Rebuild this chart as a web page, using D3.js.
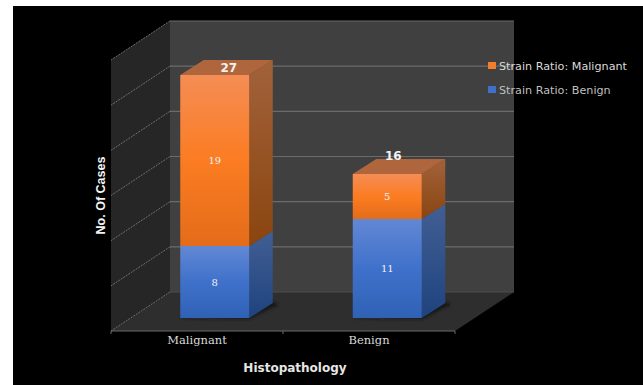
<!DOCTYPE html>
<html>
<head>
<meta charset="utf-8">
<script src="https://cdn.jsdelivr.net/npm/d3@7"></script>
<style>
  html, body { margin: 0; padding: 0; background: #fff; }
  svg { display: block; }
  text { font-family: "DejaVu Sans", sans-serif; }
</style>
</head>
<body>
<svg id="chart" width="643" height="385"></svg>
<script>
// Chart content
const categories = ["Malignant", "Benign"];
const benignValues = [8, 11];
const malignantValues = [19, 5];
const totals = [27, 16];
const seriesNames = ["Strain Ratio: Malignant", "Strain Ratio: Benign"];
const yTicks = [0, 5, 10, 15, 20, 25, 30];

const svg = d3.select("#chart");

// Oblique box: back wall, the depth vector to the front plane, and how far bars sit in
const back = { x0: 170, x1: 514, y0: 292, y1: 21 };
const depth = { dx: -59, dy: 39 };
const barInset = { dx: -41.5, dy: 26 };
const barDepth = { dx: 23.5, dy: -15 };

const y = d3.scaleLinear().domain([0, 30]).range([back.y0, back.y1]);
// Bars stand on a plane slightly nearer than the back wall
const yBar = d3.scaleLinear().domain([0, 30]).range([back.y0 + barInset.dy, back.y1 + barInset.dy + 1]);
const xFront = d3.scaleBand().domain(categories)
  .range([back.x0 + depth.dx, back.x1 + depth.dx]);
const xBar = d3.scaleBand().domain(categories)
  .range([back.x0 + barInset.dx, back.x1 + barInset.dx + 1])
  .paddingInner(0.6).paddingOuter(0.3);

const pts = a => a.map(p => p.join(",")).join(" ");

// Vertical gradients for the bar faces
const defs = svg.append("defs");
function gradient(id, stops) {
  const g = defs.append("linearGradient").attr("id", id)
    .attr("x1", 0).attr("y1", 0).attr("x2", 0).attr("y2", 1);
  stops.forEach(([o, c]) => g.append("stop").attr("offset", o).attr("stop-color", c));
}
gradient("orangeFront", [[0, "#f58d55"], [0.5, "#fb7c22"], [1, "#e46c19"]]);
gradient("blueFront", [[0, "#6288d4"], [0.5, "#3f71cb"], [1, "#2f62b5"]]);
gradient("orangeSide", [[0, "#a2623a"], [1, "#8a4510"]]);
gradient("blueSide", [[0, "#425f94"], [1, "#1f437f"]]);
const shadowBlur = defs.append("filter").attr("id", "shadowBlur")
  .attr("x", "-20%").attr("y", "-50%").attr("width", "140%").attr("height", "200%");
shadowBlur.append("feGaussianBlur").attr("stdDeviation", 1.5);

// Page background: black panel with a white sliver top and left
svg.append("rect").attr("width", 643).attr("height", 385).attr("fill", "#fff");
svg.append("rect").attr("x", 13).attr("y", 6).attr("width", 630).attr("height", 379).attr("fill", "#000");

// Walls and floor
svg.append("rect")
  .attr("x", back.x0).attr("y", back.y1)
  .attr("width", back.x1 - back.x0).attr("height", back.y0 - back.y1)
  .attr("fill", "#404040");
svg.append("polygon").attr("fill", "#262626").attr("points", pts([
  [back.x0, back.y1], [back.x0, back.y0],
  [back.x0 + depth.dx, back.y0 + depth.dy], [back.x0 + depth.dx, back.y1 + depth.dy]
]));
svg.append("polygon").attr("fill", "#2e2e2e").attr("points", pts([
  [back.x0, back.y0], [back.x1, back.y0],
  [back.x1 + depth.dx, back.y0 + depth.dy], [back.x0 + depth.dx, back.y0 + depth.dy]
]));

// Gridlines along the back wall and down the side wall
const grid = svg.append("g").attr("fill", "none");
grid.selectAll("line.back").data(yTicks).join("line").attr("class", "back")
  .attr("x1", back.x0).attr("x2", back.x1)
  .attr("y1", d => y(d)).attr("y2", d => y(d))
  .attr("stroke", d => d === 0 ? "#4d4d4d" : "#6b6b6b").attr("stroke-width", 1.2);
grid.selectAll("line.side").data(yTicks).join("line").attr("class", "side")
  .attr("x1", back.x0).attr("x2", back.x0 + depth.dx)
  .attr("y1", d => y(d)).attr("y2", d => y(d) + depth.dy)
  .attr("stroke", "#6e6e6e").attr("stroke-width", 1)
  .attr("stroke-dasharray", "2 1");

// Front floor edge with category boundaries
const frontY = back.y0 + depth.dy;
grid.append("line")
  .attr("x1", back.x0 + depth.dx).attr("x2", back.x1 + depth.dx)
  .attr("y1", frontY).attr("y2", frontY)
  .attr("stroke", "#6b6b6b");
grid.selectAll("line.tick").data(categories.concat("end")).join("line").attr("class", "tick")
  .attr("x1", (d, i) => xFront.range()[0] + i * xFront.step())
  .attr("x2", (d, i) => xFront.range()[0] + i * xFront.step())
  .attr("y1", frontY).attr("y2", frontY + 3)
  .attr("stroke", "#6b6b6b");

// Category labels
const xAxis = svg.append("g")
  .attr("transform", `translate(0,${frontY})`)
  .call(d3.axisBottom(xFront).tickSize(0).tickPadding(5));
xAxis.select(".domain").remove();
xAxis.selectAll("text")
  .style("font-family", '"DejaVu Serif", serif')
  .attr("font-size", 11.5).attr("fill", "#d9d9d9");

// Bars: each stack is a front face, a side face and, on the top segment, a lid
const stacks = d3.stack().keys(["benign", "malignant"])(
  categories.map((c, i) => ({ category: c, benign: benignValues[i], malignant: malignantValues[i] }))
);
const faces = {
  benign: { front: "url(#blueFront)", side: "url(#blueSide)" },
  malignant: { front: "url(#orangeFront)", side: "url(#orangeSide)" }
};

// Soft contact shadows on the floor
const shadows = svg.append("g").attr("fill", "#171717").attr("filter", "url(#shadowBlur)");
categories.forEach(c => {
  const x0 = xBar(c), x1 = x0 + xBar.bandwidth(), b = yBar(0);
  shadows.append("polygon").attr("points", pts([
    [x0 - 4, b + 1], [x1 + 1, b + 1],
    [x1 + barDepth.dx + 6, b + barDepth.dy + 2], [x1 + barDepth.dx, b + barDepth.dy - 2], [x1, b - 2]
  ]));
});

stacks.forEach(layer => {
  const g = svg.append("g");
  layer.forEach(d => {
    const c = d.data.category;
    const x0 = xBar(c), x1 = x0 + xBar.bandwidth();
    const top = yBar(d[1]), bottom = yBar(d[0]);
    g.append("polygon").attr("fill", faces[layer.key].side).attr("points", pts([
      [x1, top], [x1 + barDepth.dx, top + barDepth.dy],
      [x1 + barDepth.dx, bottom + barDepth.dy], [x1, bottom]
    ]));
    g.append("rect").attr("x", x0).attr("y", top)
      .attr("width", x1 - x0).attr("height", bottom - top)
      .attr("fill", faces[layer.key].front);
    if (layer.key === "malignant") {
      g.append("polygon").attr("fill", "#b0663c").attr("points", pts([
        [x0, top], [x1, top],
        [x1 + barDepth.dx, top + barDepth.dy], [x0 + barDepth.dx, top + barDepth.dy]
      ]));
    }
  });
});

// Segment value labels
stacks.forEach(layer => {
  svg.append("g").selectAll("text").data(layer).join("text")
    .attr("x", d => xBar(d.data.category) + xBar.bandwidth() / 2)
    .attr("y", d => (yBar(d[0]) + yBar(d[1])) / 2)
    .attr("dy", "0.35em").attr("text-anchor", "middle")
    .attr("font-size", 10).attr("fill", "#f2f2f2")
    .style("font-family", '"DejaVu Serif", serif')
    .text(d => d[1] - d[0]);
});

// Stack totals: one rests on the lid, the other floats above its bar
const totalShift = { Malignant: { dx: 14, dy: -8 }, Benign: { dx: 6, dy: -19 } };
svg.append("g").selectAll("text").data(totals).join("text")
  .attr("x", (d, i) => xBar(categories[i]) + xBar.bandwidth() / 2 + totalShift[categories[i]].dx)
  .attr("y", d => yBar(d))
  .attr("dy", (d, i) => totalShift[categories[i]].dy + 4.5)
  .attr("text-anchor", "middle")
  .attr("font-size", 12).attr("font-weight", "bold").attr("fill", "#f2f2f2")
  .text(d => d);

// Axis titles
svg.append("text").attr("x", 295).attr("y", 372).attr("text-anchor", "middle")
  .attr("font-size", 12).attr("font-weight", "bold").attr("fill", "#e6e6e6")
  .text("Histopathology");
svg.append("text").attr("transform", "translate(104.5,195.5) rotate(-90)")
  .attr("text-anchor", "middle")
  .style("font-family", '"Liberation Sans", sans-serif')
  .attr("font-size", 12.5).attr("font-weight", "bold").attr("fill", "#f2f2f2")
  .text("No. Of Cases");

// Legend
const legendColors = ["#f47d2b", "#3f71cb"];
const legend = svg.append("g").selectAll("g").data(seriesNames).join("g")
  .attr("transform", (d, i) => `translate(488,${62 + i * 24})`);
legend.append("rect").attr("width", 8).attr("height", 7)
  .attr("fill", (d, i) => legendColors[i]);
legend.append("text").attr("x", 11).attr("y", 4)
  .attr("dy", "0.35em").attr("font-size", 11.2)
  .attr("fill", (d, i) => i === 0 ? "#d9d9d9" : "#bfbfbf")
  .text(d => d);
</script>
</body>
</html>
